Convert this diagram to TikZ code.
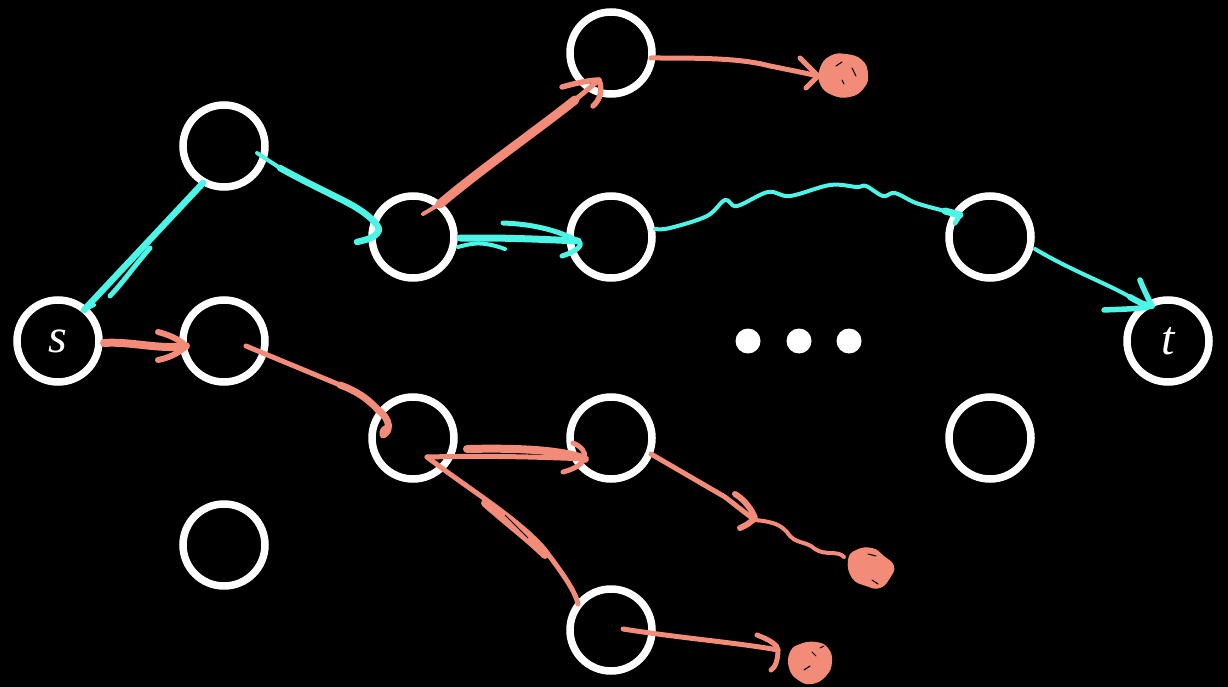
\documentclass[tikz,border=0pt]{standalone}
\usepackage{fontspec}
\setmainfont{Liberation Serif}
\definecolor{cy}{HTML}{4DF5E6}
\definecolor{sa}{HTML}{F28C78}
\begin{document}
\begin{tikzpicture}[x=1pt,y=-1pt,
  vert/.style={circle,draw=white,line width=7.5pt,minimum size=82pt,inner sep=0pt,text=white,font=\fontsize{48}{50}\selectfont\itshape},
  dotn/.style={circle,fill=white,minimum size=25pt,inner sep=0pt},
  stroke/.style={line cap=round,line join=round},
  cst/.style={stroke,draw=cy,line width=5pt},
  sst/.style={stroke,draw=sa,line width=5pt},
  blobstyle/.style={fill=sa}
]
\fill[black] (0,0) rectangle (1228,687);
\useasboundingbox (0,0) rectangle (1228,687);

% nodes
\node[vert] (s) at (58,341) {s};
\node[vert] (a1) at (224,146) {};
\node[vert] (a2) at (224,341) {};
\node[vert] (a3) at (224,545) {};
\node[vert] (b1) at (413,237) {};
\node[vert] (b2) at (413,438) {};
\node[vert] (c0) at (611,53) {};
\node[vert] (c1) at (611,237) {};
\node[vert] (c2) at (611,438) {};
\node[vert] (c3) at (611,630) {};
\node[vert] (d1) at (990,237) {};
\node[vert] (d2) at (990,438) {};
\node[vert] (t) at (1168,341) {t};
\node[dotn] (p1) at (748,341) {};
\node[dotn] (p2) at (799,341) {};
\node[dotn] (p3) at (849,341) {};

% blob centres
\coordinate (k1) at (842,75);
\coordinate (k2) at (869,568);
\coordinate (k3) at (808,662);

% ---------- cyan edges ----------
% s -> a1
\draw[cst,line width=6.5pt] ([shift={(26,-31)}]s.center) -- ([shift={(-21,37)}]a1.center);
\draw[cst,line width=5pt] (150,248) .. controls (135,265) and (125,280) .. ([shift={(52,-45)}]s.center);
\draw[cst,line width=4pt] ([shift={(26,-31)}]s.center) -- ([shift={(36,-36)}]s.center);
% a1 -> b1
\draw[cst,line width=4pt] ([shift={(33,7)}]a1.center) -- (280,168);
\draw[cst,line width=6.5pt] (280,168) .. controls (320,190) and (345,200) .. (360,210)
   .. controls (372,218) and (382,228) .. ([shift={(-35,-5)}]b1.center)
   .. controls (375,238) and (365,240) .. (357,242);
% b1 -> c1
\draw[cst,line width=7pt] ([shift={(47,1)}]b1.center) -- (480,238) .. controls (520,238) and (555,240) .. ([shift={(-33,4)}]c1.center);
\draw[cst,line width=5pt] (503,223) .. controls (530,224) and (555,229) .. ([shift={(-33,4)}]c1.center)
   .. controls (585,245) and (575,252) .. (562,256);
\draw[cst,line width=4pt] ([shift={(45,10)}]b1.center) .. controls (470,244) and (480,240) .. (505,249);
% c1 -> d1 (wavy)
\draw[cst,line width=4pt] plot[smooth,tension=0.6] coordinates {([shift={(44,-8)}]c1.center) (670,228) (707,216) (725,200) (737,206) (768,192) (790,196) (830,185) (857,187) (866,186) (883,196) (895,193) (916,203) (945,211)};
\draw[cst,line width=7pt] (945,211) -- ([shift={(-30,-22)}]d1.center);
\draw[cst,line width=5pt] ([shift={(-30,-22)}]d1.center) -- ([shift={(-35,-14)}]d1.center);
% d1 -> t
\draw[cst,line width=4pt] ([shift={(45,12)}]d1.center) .. controls (1070,270) and (1110,285) .. (1130,297);
\draw[cst,line width=6pt] (1130,297) .. controls (1140,303) and (1145,305) .. ([shift={(-16,-35)}]t.center);
\draw[cst,line width=5.5pt] (1104,310) .. controls (1125,309) and (1140,309) .. ([shift={(-16,-35)}]t.center)
   .. controls (1148,298) and (1143,288) .. (1140,280);

% ---------- salmon edges ----------
% s -> a2
\draw[sst,line width=8pt] ([shift={(46,2)}]s.center) .. controls (130,341) and (160,350) .. ([shift={(-38,5)}]a2.center);
\draw[sst,line width=6pt] (158,332) .. controls (170,335) and (180,340) .. ([shift={(-38,5)}]a2.center)
   .. controls (178,354) and (168,358) .. (158,360);
% a2 -> b2
\draw[sst,line width=5pt] ([shift={(22,5)}]a2.center) -- (340,385);
\draw[sst,line width=7pt] (340,385) .. controls (360,392) and (372,403) .. (378,410)
   .. controls (392,420) and (390,432) .. ([shift={(-30,-3)}]b2.center)
   .. controls (382,430) and (386,428) .. (388,428);
% b1 -> c0
\draw[sst,line width=4pt] ([shift={(10,-23)}]b1.center) -- (440,204);
\draw[sst,line width=9pt] (440,204) .. controls (480,170) and (540,128) .. (575,100);
\draw[sst,line width=5pt] (575,100) -- ([shift={(-12,27)}]c0.center);
\draw[sst,line width=5.5pt] (562,87) .. controls (580,82) and (592,80) .. ([shift={(-12,27)}]c0.center)
   .. controls (603,90) and (600,100) .. (593,106);
% c0 -> blob1
\draw[sst,line width=5pt] ([shift={(40,5)}]c0.center) .. controls (700,58) and (740,58) .. (770,66) .. controls (790,70) and (805,73) .. ([shift={(-24,1)}]k1);
\draw[sst,line width=5pt] (800,58) -- ([shift={(-24,1)}]k1) -- (806,88);
\fill[blobstyle] plot[smooth cycle,tension=0.8] coordinates {(820,68) (830,56) (846,54) (862,60) (868,74) (864,88) (850,97) (832,95) (820,84)};
\draw[black,line width=1pt,line cap=round] (836,66) -- (842,62) (852,68) -- (856,76) (842,80) -- (844,84);
% b2 -> c2
\draw[sst,line width=5pt] ([shift={(14,19)}]b2.center) .. controls (470,456) and (520,456) .. ([shift={(-26,21)}]c2.center);
\draw[sst,line width=8pt] (467,449) .. controls (510,448) and (560,449) .. ([shift={(-26,21)}]c2.center);
\draw[sst,line width=5pt] (573,443) .. controls (590,450) and (590,465) .. (563,472);
% b2 -> c3
\draw[sst,line width=5pt] ([shift={(14,19)}]b2.center) .. controls (470,490) and (520,520) .. (545,550)
   .. controls (560,570) and (575,590) .. ([shift={(-33,-26)}]c3.center);
\draw[sst,line width=8pt] (485,503) .. controls (510,525) and (530,540) .. (545,555);
\draw[black,line width=1pt] (505,515) -- (528,538);
% c2 -> blob2
\draw[sst,line width=5pt] ([shift={(40,16)}]c2.center) -- (725,497) -- (752,518);
\draw[sst,line width=6pt] (735,494) .. controls (745,500) and (752,510) .. (755,518) .. controls (748,525) and (742,527) .. (740,528);
\draw[sst,line width=4pt] (755,520) .. controls (775,522) and (780,525) .. (787,532) .. controls (795,545) and (805,540) .. (815,549) .. controls (825,556) and (838,550) .. ([shift={(-25,-11)}]k2);
\fill[blobstyle] plot[smooth cycle,tension=0.8] coordinates {(848,560) (856,550) (872,548) (884,556) (894,566) (890,578) (880,588) (866,586) (852,578)};
\draw[black,line width=1pt,line cap=round] (868,554) -- (876,556) (872,580) -- (878,584);
% c3 -> blob3
\draw[sst,line width=5pt] ([shift={(12,-1)}]c3.center) .. controls (680,638) and (740,643) .. ([shift={(-30,-12)}]k3);
\draw[sst,line width=5pt] (757,635) .. controls (770,640) and (778,645) .. ([shift={(-30,-12)}]k3) .. controls (778,660) and (775,668) .. (771,670);
\fill[blobstyle] plot[smooth cycle,tension=0.8] coordinates {(790,652) (800,644) (816,642) (828,648) (832,662) (826,676) (812,684) (798,680) (789,668)};
\draw[black,line width=1pt,line cap=round] (812,652) -- (816,656) (804,670) -- (810,666) (820,648) -- (824,646);
\end{tikzpicture}
\end{document}
